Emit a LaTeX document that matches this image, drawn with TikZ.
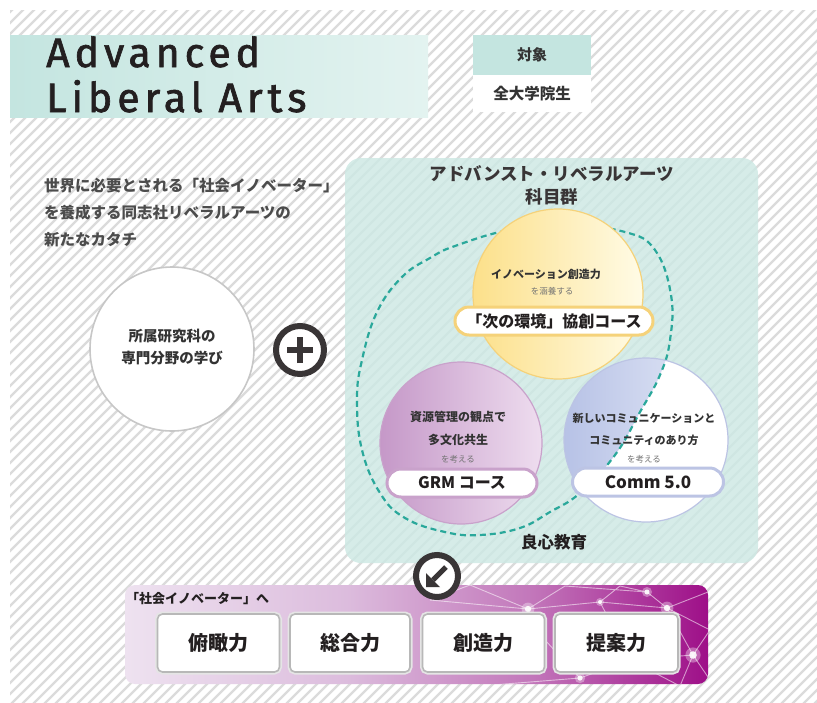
\documentclass[tikz,border=0pt]{standalone}
\usepackage{fontspec}
\setmainfont{Noto Sans CJK JP}
\newfontfamily\titlefont{Fira Sans}[LetterSpace=12, FakeBold=1.6]
\definecolor{ink}{HTML}{231F20}
\definecolor{txt}{HTML}{333333}
\definecolor{tealA}{HTML}{C4E5E0}
\definecolor{tealB}{HTML}{E3F3F0}
\definecolor{tealbox}{HTML}{CDE9E4}
\definecolor{dashc}{HTML}{2AA89B}
\definecolor{yelA}{HTML}{FCE08A}
\definecolor{yelB}{HTML}{FFFBE6}
\definecolor{yelD}{HTML}{F5D27A}
\definecolor{purA}{HTML}{C598C8}
\definecolor{purB}{HTML}{EEDDEF}
\definecolor{purD}{HTML}{C9A2CB}
\definecolor{bluA}{HTML}{B7C2E6}
\definecolor{bluB}{HTML}{E8ECF8}
\definecolor{bluD}{HTML}{BCC4E4}
\definecolor{mA}{HTML}{EEE2F0}
\definecolor{mB}{HTML}{DCBCDD}
\definecolor{mC}{HTML}{C276BA}
\definecolor{mD}{HTML}{9E0F88}
\pgfdeclarehorizontalshading{magband}{100bp}{color(0bp)=(mA); color(25bp)=(mA); color(44bp)=(mB); color(60bp)=(mC); color(75bp)=(mD); color(100bp)=(mD)}
\newcommand\jfs[1]{\fontsize{#1}{#1}\selectfont}
\begin{document}
\begin{tikzpicture}[x=1pt,y=-1pt,
  stripe/.style={draw=black!14, line width=2.2pt},
  dashring/.style={draw=dashc, line width=2.2pt, dash pattern=on 6pt off 4pt},
  jb/.style={font=\bfseries, text=txt},
  small/.style={text=black!55},
  pill/.style={rectangle, rounded corners=14pt, fill=white, line width=3pt, minimum height=28pt, font=\bfseries\jfs{16}, text=ink, inner sep=0pt},
  skill/.style={rectangle, rounded corners=5pt, fill=white, draw=black!28, line width=1.6pt, minimum width=122pt, minimum height=58pt, font=\bfseries\jfs{20}, text=ink, preaction={draw=black!10, line width=5pt}},
  icon/.style={circle, draw=ink!90, fill=white, line width=6pt, inner sep=0pt}
]
\useasboundingbox (0,0) rectangle (817,702);
\fill[white] (0,0) rectangle (817,702);
\begin{scope}
  \clip (10,10) rectangle (817,702);
  \foreach \i in {0,11,...,1540} \draw[stripe] (\i,0) -- ++(-720,720);
\end{scope}

% title band
\shade[left color=tealA, right color=tealB] (10,35) rectangle (428,117);
\node[anchor=base west, font=\titlefont\jfs{41}, text=ink, inner sep=0pt] (t1) at (46,67) {Advanced};
\node[anchor=base west, font=\titlefont\jfs{41}, text=ink, inner sep=0pt] (t2) at (46,112) {Liberal Arts};

% target box
\node[rectangle, fill=tealA, minimum width=118pt, minimum height=40pt, inner sep=0pt, jb, font=\bfseries\jfs{15}] (taisho) at (532,55) {対象};
\node[rectangle, fill=white, minimum width=118pt, minimum height=37pt, inner sep=0pt, jb, font=\bfseries\jfs{15.5}, anchor=north] (zen) at (taisho.south) {全大学院生};

% intro text
\node[anchor=base west, jb, font=\bfseries\jfs{15.5}, text=black!70, inner sep=0pt] (l1) at (44,191) {世界に必要とされる「社会イノベーター」};
\node[anchor=base west, jb, font=\bfseries\jfs{15.5}, text=black!70, inner sep=0pt] (l2) at (44,218) {を養成する同志社リベラルアーツの};
\node[anchor=base west, jb, font=\bfseries\jfs{15.5}, text=black!70, inner sep=0pt] (l3) at (44,245) {新たなカタチ};

% major circle
\node[circle, fill=white, draw=black!22, line width=1.6pt, minimum size=164pt, inner sep=0pt] (major) at (172,349) {};
\node[jb, font=\bfseries\jfs{14.5}, align=center] (majt) at (172,347) {所属研究科の\\[7pt]専門分野の学び};

% plus icon
\node[icon, minimum size=48pt] (plus) at (300,350) {};
\draw[line width=6.5pt, ink!90] ([xshift=-13pt]plus.center) -- ([xshift=13pt]plus.center);
\draw[line width=6.5pt, ink!90] ([yshift=-13pt]plus.center) -- ([yshift=13pt]plus.center);

% teal box
\node[rectangle, fill=tealbox, fill opacity=0.82, rounded corners=16pt, minimum width=413pt, minimum height=405pt, inner sep=0pt] (ala) at (551.5,360.5) {};
\node[jb, font=\bfseries\jfs{17.5}, text=ink!90] (alat) at (552,174) {アドバンスト・リベラルアーツ};
\node[jb, font=\bfseries\jfs{17.5}, text=ink!90] (alat2) at (552,197) {科目群};

% dashed oval
\draw[dashring] plot[smooth cycle, tension=0.7] coordinates {(455,246) (510,230) (570,226) (625,232) (655,250) (671,295) (670,340) (660,375) (640,412) (615,455) (580,493) (550,512) (520,528) (480,535) (445,532) (405,518) (380,493) (362,450) (357,400) (362,360) (377,312) (402,277) (430,258)};

% yellow circle
\node[circle, left color=yelA, right color=yelB, draw=yelD, line width=1.2pt, minimum size=170pt, inner sep=0pt] (ycirc) at (558,294) {};
\node[jb, font=\bfseries\jfs{11}] (yt1) at (546,274) {イノベーション創造力};
\node[small, font=\jfs{8.5}] (yt2) at (552,291) {を涵養する};
\node[pill, draw=yelD, minimum width=198pt] (ypill) at (554,321) {「次の環境」協創コース};

% GRM circle
\node[circle, left color=purA, right color=purB, draw=purD, line width=1.2pt, minimum size=162pt, inner sep=0pt] (gcirc) at (461,443) {};
\node[jb, font=\bfseries\jfs{12}] (gt1) at (458,417) {資源管理の観点で};
\node[jb, font=\bfseries\jfs{12}] (gt2) at (458,440) {多文化共生};
\node[small, font=\jfs{8.5}] (gt3) at (458,459) {を考える};
\node[pill, draw=purD, minimum width=150pt] (gpill) at (462,483) {GRM コース};

% Comm circle
\node[circle, fill=white, minimum size=164pt, inner sep=0pt] (ccirc) at (646,440) {};
\begin{scope}
  \clip (646,440) circle [radius=82];
  \clip plot[smooth cycle, tension=0.7] coordinates {(455,246) (510,230) (570,226) (625,232) (655,250) (671,295) (670,340) (660,375) (640,412) (615,455) (580,493) (550,512) (520,528) (480,535) (445,532) (405,518) (380,493) (362,450) (357,400) (362,360) (377,312) (402,277) (430,258)};
  \shade[left color=bluA, right color=bluB] (564,358) rectangle (728,522);
\end{scope}
\begin{scope}
  \clip (646,440) circle [radius=82];
  \draw[dashring] plot[smooth cycle, tension=0.7] coordinates {(455,246) (510,230) (570,226) (625,232) (655,250) (671,295) (670,340) (660,375) (640,412) (615,455) (580,493) (550,512) (520,528) (480,535) (445,532) (405,518) (380,493) (362,450) (357,400) (362,360) (377,312) (402,277) (430,258)};
\end{scope}
\node[circle, draw=bluD, line width=1.2pt, minimum size=164pt, inner sep=0pt] (cring) at (646,440) {};
\node[jb, font=\bfseries\jfs{11}] (ct1) at (644,418) {新しいコミュニケーションと};
\node[jb, font=\bfseries\jfs{11}] (ct2) at (644,440) {コミュニティのあり方};
\node[small, font=\jfs{8.5}] (ct3) at (644,459) {を考える};
\node[pill, draw=bluD, minimum width=151pt, font=\bfseries\jfs{17}] (cpill) at (648,482) {Comm 5.0};

\node[jb, font=\bfseries\jfs{16.5}, text=ink] (ryoshin) at (554,542) {良心教育};

% bottom band
\shade[shading=magband, rounded corners=10pt] (125,585) rectangle (708,684);
\begin{scope}
  \clip[rounded corners=10pt] (125,585) rectangle (708,684);
  \begin{scope}[white, line width=0.9pt, opacity=0.55]
    \coordinate (p1) at (470,585); \coordinate (p2) at (528,609); \coordinate (p3) at (565,586);
    \coordinate (p4) at (600,602); \coordinate (p5) at (647,592); \coordinate (p6) at (667,608);
    \coordinate (p7) at (708,592); \coordinate (p8) at (693,655); \coordinate (p9) at (710,630);
    \coordinate (p10) at (580,678); \coordinate (p11) at (480,686); \coordinate (p12) at (545,640);
    \coordinate (p13) at (630,660); \coordinate (p14) at (430,600); \coordinate (p15) at (680,686);
    \coordinate (p16) at (710,680); \coordinate (p17) at (620,586);
    \draw (p1) -- (p2) -- (p3) (p2) -- (p4) -- (p6) (p3) -- (p5) -- (p6) -- (p7)
          (p6) -- (p8) -- (p9) (p8) -- (p15) (p8) -- (p13) -- (p10) -- (p11)
          (p12) -- (p2) (p12) -- (p10) (p4) -- (p13) (p14) -- (p2) (p5) -- (p17) -- (p4)
          (p8) -- (p16) (p13) -- (p15) (p1) -- (p14) (p6) -- (p9);
  \end{scope}
  \foreach \p/\r in {p2/3.2, p5/2.5, p6/3.2, p8/3.8, p10/2.6, p13/2.2, p4/2}{
    \fill[white, opacity=0.35] (\p) circle [radius=\r*2];
    \fill[white, opacity=0.9] (\p) circle [radius=\r];
  }
\end{scope}
\node[anchor=base west, jb, font=\bfseries\jfs{13}, text=ink, inner sep=0pt] (toinno) at (126,603) {「社会イノベーター」へ};
\node[skill] (s1) at (218.5,643) {俯瞰力};
\node[skill, minimum width=120pt] (s2) at (350,643) {総合力};
\node[skill] (s3) at (483.5,643) {創造力};
\node[skill, minimum width=123pt] (s4) at (616.5,643) {提案力};

% arrow icon
\node[icon, minimum size=42pt] (arr) at (437,576) {};
\draw[line width=5pt, ink!90] (446,567) -- (433,580);
\fill[ink!90] (426,587) -- (426,573) -- (440,587) -- cycle;
\end{tikzpicture}
\end{document}
